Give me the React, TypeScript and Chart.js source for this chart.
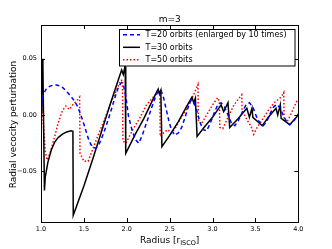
import React, { useEffect, useRef } from "react";
import { Chart, registerables } from "chart.js";

Chart.register(...registerables);

const titleText = "m=3";
const yAxisTitle = "Radial vecocity perturbation";
const xAxisTitleMain = "Radius [r";
const xAxisTitleSub = "ISCO";
const xAxisTitleEnd = "]";

const xTickValues = [1.0, 1.5, 2.0, 2.5, 3.0, 3.5, 4.0];
const yTickValues = [-0.05, 0.0, 0.05];

const seriesLabels = [
  "T=20 orbits (enlarged by 10 times)",
  "T=30 orbits",
  "T=50 orbits",
];

// T=20 orbits (blue dashed)
const t20Radius = [1.0, 1.01, 1.03, 1.06, 1.1, 1.14, 1.18, 1.22, 1.26, 1.31, 1.35, 1.39, 1.43, 1.46, 1.49, 1.52, 1.55, 1.58, 1.61, 1.64, 1.67, 1.7, 1.73, 1.76, 1.8, 1.84, 1.88, 1.91, 1.94, 1.96, 1.99, 2.02, 2.06, 2.1, 2.14, 2.18, 2.23, 2.27, 2.31, 2.35, 2.38, 2.4, 2.43, 2.46, 2.49, 2.52, 2.56, 2.6, 2.64, 2.68, 2.72, 2.75, 2.78, 2.82, 2.85, 2.89, 2.93, 2.97, 3.02, 3.06, 3.1, 3.14, 3.18, 3.22, 3.26, 3.3, 3.35, 3.39, 3.43, 3.47, 3.51, 3.55, 3.59, 3.63, 3.67, 3.71, 3.75, 3.79, 3.83, 3.87, 3.9, 3.94, 3.98, 4.0];
const t20Values = [0.002, 0.012, 0.019, 0.023, 0.0255, 0.0265, 0.0267, 0.026, 0.024, 0.02, 0.0165, 0.0125, 0.007, 0.001, -0.0056, -0.013, -0.0205, -0.026, -0.029, -0.0295, -0.027, -0.022, -0.016, -0.0095, 0.0, 0.01, 0.02, 0.026, 0.029, 0.027, 0.016, -0.001, -0.013, -0.0217, -0.025, -0.018, -0.007, 0.002, 0.011, 0.019, 0.022, 0.022, 0.015, 0.005, -0.005, -0.013, -0.018, -0.016, -0.011, -0.002, 0.008, 0.0135, 0.012, 0.003, -0.0056, -0.013, -0.014, -0.008, 0.002, 0.009, 0.011, 0.007, 0.0, -0.007, -0.0095, -0.005, 0.003, 0.009, 0.011, 0.007, -0.001, -0.007, -0.0095, -0.006, 0.001, 0.007, 0.0095, 0.006, -0.001, -0.007, -0.0085, -0.006, -0.0015, 0.001];

// T=30 orbits (black solid)
const t30Radius = [1.0, 1.008, 1.015, 1.022, 1.04, 1.05, 1.08, 1.12, 1.16, 1.2, 1.25, 1.3, 1.35, 1.372, 1.376, 1.5, 1.6, 1.7, 1.8, 1.9, 1.94, 1.96, 1.978, 1.982, 1.988, 2.1, 2.2, 2.3, 2.366, 2.38, 2.397, 2.41, 2.5, 2.6, 2.7, 2.76, 2.78, 2.8, 2.82, 2.9, 3.0, 3.1, 3.13, 3.18, 3.2, 3.3, 3.4, 3.43, 3.46, 3.47, 3.58, 3.65, 3.74, 3.76, 3.79, 3.8, 3.9, 4.0];
const t30Values = [0.003, 0.02, 0.05, 0.045, -0.067, -0.055, -0.042, -0.031, -0.024, -0.02, -0.017, -0.015, -0.014, -0.0145, -0.089, -0.063, -0.04, -0.016, 0.008, 0.031, 0.04, 0.036, 0.043, 0.043, -0.034, -0.017, -0.003, 0.013, 0.023, 0.019, 0.022, -0.028, -0.018, -0.006, 0.008, 0.016, 0.011, 0.015, -0.019, -0.011, -0.002, 0.009, 0.003, 0.011, -0.011, -0.003, 0.006, -0.002, 0.006, -0.002, -0.0095, -0.002, 0.006, 0.0, 0.009, -0.003, -0.0085, 0.0];

// T=50 orbits (red dotted)
const t50Radius = [1.0, 1.01, 1.02, 1.035, 1.05, 1.07, 1.09, 1.12, 1.16, 1.2, 1.25, 1.29, 1.33, 1.37, 1.42, 1.45, 1.455, 1.5, 1.55, 1.6, 1.66, 1.74, 1.82, 1.88, 1.93, 1.95, 1.955, 1.99, 2.07, 2.15, 2.23, 2.31, 2.36, 2.385, 2.39, 2.44, 2.48, 2.52, 2.57, 2.62, 2.72, 2.78, 2.83, 2.835, 2.87, 2.93, 3.0, 3.06, 3.08, 3.085, 3.12, 3.18, 3.25, 3.3, 3.34, 3.345, 3.4, 3.45, 3.48, 3.52, 3.58, 3.65, 3.72, 3.8, 3.83, 3.835, 3.87, 3.92, 3.98, 4.0];
const t50Values = [0.008, 0.013, 0.0, -0.016, -0.032, -0.04, -0.037, -0.03, -0.019, -0.007, 0.004, 0.008, 0.005, 0.009, 0.013, 0.016, -0.034, -0.041, -0.041, -0.031, -0.019, -0.004, 0.012, 0.022, 0.031, 0.031, -0.023, -0.025, -0.013, -0.003, 0.009, 0.016, 0.02, 0.018, -0.019, -0.015, -0.013, -0.016, -0.011, -0.004, 0.008, 0.018, 0.027, -0.005, -0.008, 0.0, 0.009, 0.0155, 0.012, -0.011, -0.012, -0.002, 0.009, 0.014, 0.018, 0.004, -0.004, -0.01, -0.017, -0.011, -0.004, 0.004, 0.011, 0.016, 0.02, -0.004, -0.006, 0.002, 0.012, 0.012];

const FONT = "'DejaVu Sans', sans-serif";

const toPoints = (xs: number[], ys: number[]) => xs.map((x, i) => ({ x, y: ys[i] }));

const mplPlugin = {
  id: "mplDecor",
  afterDatasetsDraw(chart: any) {
    const { ctx, chartArea, scales } = chart;
    const { left, right, top, bottom } = chartArea;
    const xs = scales.x;
    const ys = scales.y;
    ctx.save();
    // spines
    ctx.strokeStyle = "#000";
    ctx.lineWidth = 1;
    ctx.strokeRect(Math.round(left) + 0.5, Math.round(top) + 0.5, Math.round(right - left), Math.round(bottom - top));
    // inward ticks
    const tl = 4;
    ctx.beginPath();
    xTickValues.forEach((v) => {
      const px = Math.round(xs.getPixelForValue(v)) + 0.5;
      ctx.moveTo(px, bottom);
      ctx.lineTo(px, bottom - tl);
      ctx.moveTo(px, top);
      ctx.lineTo(px, top + tl);
    });
    yTickValues.forEach((v) => {
      const py = Math.round(ys.getPixelForValue(v)) + 0.5;
      ctx.moveTo(left, py);
      ctx.lineTo(left + tl, py);
      ctx.moveTo(right, py);
      ctx.lineTo(right - tl, py);
    });
    ctx.stroke();

    // title
    ctx.fillStyle = "#000";
    ctx.font = `9px ${FONT}`;
    ctx.textAlign = "center";
    ctx.textBaseline = "alphabetic";
    ctx.fillText(titleText, (left + right) / 2, 22);

    // y axis title
    ctx.save();
    ctx.translate(16, (top + bottom) / 2 + 1);
    ctx.rotate(-Math.PI / 2);
    ctx.textAlign = "center";
    ctx.textBaseline = "alphabetic";
    ctx.font = `9px ${FONT}`;
    ctx.fillText(yAxisTitle, 0, 0);
    ctx.restore();

    // x axis title with subscript
    ctx.font = `9px ${FONT}`;
    const wMain = ctx.measureText(xAxisTitleMain).width;
    const wEnd = ctx.measureText(xAxisTitleEnd).width;
    ctx.font = `6.5px ${FONT}`;
    const wSub = ctx.measureText(xAxisTitleSub).width;
    const total = wMain + wSub + wEnd;
    let sx = (left + right) / 2 - total / 2;
    const base = 242.5;
    ctx.textAlign = "left";
    ctx.font = `9px ${FONT}`;
    ctx.fillText(xAxisTitleMain, sx, base);
    sx += wMain;
    ctx.font = `6.5px ${FONT}`;
    ctx.fillText(xAxisTitleSub, sx, base + 2.5);
    sx += wSub;
    ctx.font = `9px ${FONT}`;
    ctx.fillText(xAxisTitleEnd, sx, base);

    // legend
    const bx = 119.5, by = 29.5, bw = 175.5, bh = 36.5;
    ctx.fillStyle = "#fff";
    ctx.fillRect(bx, by, bw, bh);
    ctx.strokeStyle = "#000";
    ctx.lineWidth = 1;
    ctx.strokeRect(bx, by, bw, bh);
    const rows = [34.7, 47.3, 59.7];
    ctx.font = `8px ${FONT}`;
    ctx.textBaseline = "middle";
    chart.data.datasets.forEach((ds: any, i: number) => {
      const y = rows[i];
      ctx.save();
      ctx.strokeStyle = ds.borderColor;
      ctx.lineWidth = ds.borderWidth;
      ctx.setLineDash(ds.borderDash || []);
      ctx.beginPath();
      ctx.moveTo(123, y);
      ctx.lineTo(140, y);
      ctx.stroke();
      ctx.restore();
      ctx.fillStyle = "#000";
      ctx.textAlign = "left";
      ctx.fillText(seriesLabels[i], 145.5, y + 0.5);
    });
    ctx.restore();
  },
};

export default function App() {
  const ref = useRef<HTMLCanvasElement | null>(null);
  useEffect(() => {
    document.body.style.margin = "0";
    const canvas = ref.current!;
    const chart = new Chart(canvas, {
      type: "line",
      data: {
        datasets: [
          {
            label: seriesLabels[0],
            data: toPoints(t20Radius, t20Values),
            borderColor: "#0000ff",
            borderWidth: 1.5,
            borderDash: [4, 3],
            pointRadius: 0,
            tension: 0,
            fill: false,
          },
          {
            label: seriesLabels[1],
            data: toPoints(t30Radius, t30Values),
            borderColor: "#000000",
            borderWidth: 1.5,
            pointRadius: 0,
            tension: 0,
            fill: false,
          },
          {
            label: seriesLabels[2],
            data: toPoints(t50Radius, t50Values),
            borderColor: "#ff0000",
            borderWidth: 1.5,
            borderDash: [1.5, 2],
            pointRadius: 0,
            tension: 0,
            fill: false,
          },
        ],
      },
      options: {
        responsive: false,
        animation: false,
        layout: { padding: { top: 25, right: 33.7, left: 0, bottom: 0 } },
        plugins: { legend: { display: false }, tooltip: { enabled: false }, title: { display: false } },
        scales: {
          x: {
            type: "linear",
            min: 1,
            max: 4,
            grid: { display: false, drawTicks: false },
            border: { display: false },
            afterBuildTicks: (s: any) => {
              s.ticks = xTickValues.map((v) => ({ value: v }));
            },
            afterFit: (s: any) => {
              s.height = 27;
            },
            ticks: {
              padding: 3,
              color: "#000",
              font: { family: FONT, size: 6.5 },
              maxRotation: 0,
              autoSkip: false,
              callback: (v: any) => Number(v).toFixed(1),
            },
          },
          y: {
            type: "linear",
            min: -0.095,
            max: 0.08,
            grid: { display: false, drawTicks: false },
            border: { display: false },
            afterBuildTicks: (s: any) => {
              s.ticks = yTickValues.map((v) => ({ value: v }));
            },
            afterFit: (s: any) => {
              s.width = 41;
            },
            ticks: {
              padding: 4,
              color: "#000",
              font: { family: FONT, size: 6.5 },
              autoSkip: false,
              callback: (v: any) => {
                const n = Number(v);
                const s = Math.abs(n).toFixed(2);
                return n < -1e-9 ? "\u2212" + s : s;
              },
            },
          },
        },
      },
      plugins: [mplPlugin],
    });
    return () => chart.destroy();
  }, []);
  return <canvas ref={ref} width={332} height={249} style={{ display: "block", width: 332, height: 249 }} />;
}
